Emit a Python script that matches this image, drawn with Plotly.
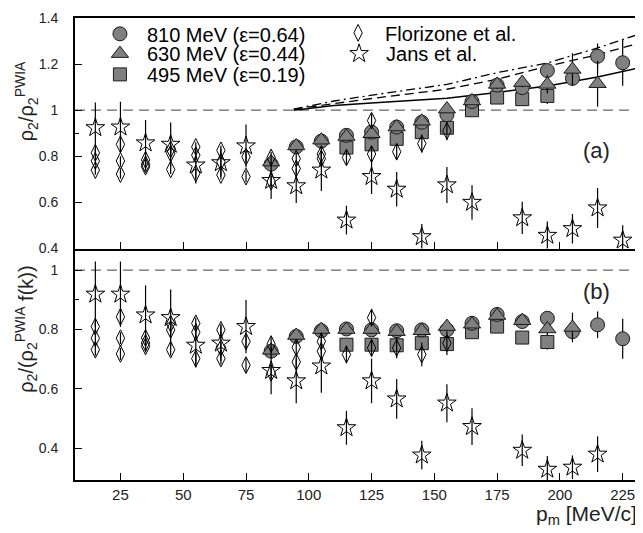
import plotly.graph_objects as go

# ---------------- data ----------------
# 810 MeV (eps=0.64), circles
x810 = [85, 95, 105, 115, 125, 135, 145, 155, 165, 175, 185, 195, 205, 215, 225]
a810 = [0.766, 0.841, 0.866, 0.891, 0.905, 0.927, 0.948, 0.980, 1.038, 1.109, 1.098, 1.172, 1.138, 1.234, 1.206]
ea810 = [0.015, 0.015, 0.015, 0.015, 0.015, 0.015, 0.02, 0.02, 0.02, 0.02, 0.02, 0.03, 0.03, 0.055, 0.10]
b810 = [0.727, 0.777, 0.796, 0.802, 0.799, 0.796, 0.799, 0.799, 0.821, 0.851, 0.827, 0.838, 0.793, 0.816, 0.769]
eb810 = [0.012, 0.012, 0.012, 0.012, 0.012, 0.012, 0.012, 0.012, 0.012, 0.015, 0.015, 0.02, 0.02, 0.045, 0.067]

# 630 MeV (eps=0.44), triangles
x630a = [85, 95, 105, 115, 125, 135, 145, 155, 165, 175, 185, 195, 205, 215]
a630 = [0.775, 0.845, 0.870, 0.886, 0.898, 0.927, 0.952, 1.005, 1.040, 1.112, 1.120, 1.112, 1.177, 1.115]
ea630 = [0.015, 0.015, 0.015, 0.015, 0.015, 0.015, 0.015, 0.015, 0.015, 0.02, 0.02, 0.04, 0.07, 0.10]
x630b = [85, 95, 105, 115, 125, 135, 145, 155, 165, 175, 185, 195, 205]
b630 = [0.730, 0.780, 0.800, 0.800, 0.800, 0.793, 0.796, 0.810, 0.818, 0.847, 0.830, 0.802, 0.807]
eb630 = [0.012, 0.012, 0.012, 0.012, 0.012, 0.012, 0.012, 0.012, 0.012, 0.015, 0.015, 0.02, 0.05]

# 495 MeV (eps=0.19), squares
x495 = [115, 125, 135, 145, 155, 165, 175, 185, 195]
a495 = [0.838, 0.852, 0.876, 0.905, 0.924, 1.000, 1.055, 1.048, 1.062]
ea495 = [0.015, 0.015, 0.015, 0.015, 0.015, 0.015, 0.02, 0.02, 0.035]
b495 = [0.749, 0.749, 0.747, 0.754, 0.751, 0.791, 0.810, 0.773, 0.758]
eb495 = [0.012, 0.012, 0.012, 0.012, 0.012, 0.012, 0.015, 0.015, 0.025]

# Florizone et al., open diamonds
flor_x = [15, 15, 15, 25, 25, 25, 35, 35, 35, 45, 45, 45, 55, 55, 55, 65, 65, 65,
          75, 75, 85, 85, 95, 95, 105, 105, 115, 125, 125, 135, 145, 155]
flor_a = [0.815, 0.780, 0.740, 0.852, 0.780, 0.723, 0.785, 0.765, 0.755, 0.830, 0.812, 0.743,
          0.841, 0.805, 0.726, 0.826, 0.776, 0.719, 0.798, 0.712, 0.795, 0.690, 0.790, 0.747,
          0.810, 0.790, 0.795, 0.955, 0.810, 0.820, 0.855, 0.910]
flor_b = [0.810, 0.771, 0.732, 0.843, 0.771, 0.718, 0.772, 0.755, 0.743, 0.820, 0.799, 0.732,
          0.821, 0.791, 0.702, 0.799, 0.738, 0.702, 0.760, 0.680, 0.751, 0.654, 0.740, 0.691,
          0.760, 0.727, 0.716, 0.840, 0.738, 0.738, 0.716, 0.754]
flor_e = [0.02, 0.02, 0.02, 0.02, 0.02, 0.02, 0.02, 0.02, 0.02, 0.02, 0.02, 0.02,
          0.02, 0.02, 0.02, 0.02, 0.02, 0.02, 0.025, 0.025, 0.025, 0.025, 0.025, 0.025,
          0.03, 0.03, 0.03, 0.03, 0.03, 0.035, 0.04, 0.04]

# Jans et al., open stars
jans_xa = [15, 25, 35, 45, 55, 65, 75, 85, 95, 105, 115, 125, 135, 145, 155, 165, 185, 195, 205, 215, 225]
jans_a = [0.924, 0.927, 0.858, 0.852, 0.762, 0.772, 0.845, 0.695, 0.672, 0.740, 0.523, 0.712,
          0.657, 0.451, 0.676, 0.600, 0.533, 0.457, 0.486, 0.576, 0.436]
jans_ea = [0.11, 0.11, 0.10, 0.095, 0.08, 0.06, 0.093, 0.08, 0.075, 0.09, 0.062, 0.075,
           0.075, 0.055, 0.078, 0.075, 0.07, 0.06, 0.064, 0.087, 0.065]
jans_xb = [15, 25, 35, 45, 55, 65, 75, 85, 95, 105, 115, 125, 135, 145, 155, 165, 185, 195, 205, 215]
jans_b = [0.919, 0.919, 0.849, 0.840, 0.747, 0.754, 0.810, 0.662, 0.627, 0.677, 0.469, 0.627,
          0.566, 0.377, 0.552, 0.473, 0.393, 0.329, 0.336, 0.380]
jans_eb = [0.11, 0.11, 0.10, 0.095, 0.075, 0.06, 0.09, 0.08, 0.075, 0.09, 0.057, 0.075,
           0.067, 0.048, 0.064, 0.062, 0.053, 0.045, 0.04, 0.06]

# theory curves (panel a)
theory_x = [94, 110, 128, 155, 175, 195, 215, 231.5]
th_solid = [1.000, 1.020, 1.033, 1.052, 1.077, 1.105, 1.144, 1.184]
th_dash = [1.005, 1.030, 1.055, 1.091, 1.134, 1.191, 1.241, 1.291]
th_dashdot = [1.005, 1.040, 1.070, 1.112, 1.163, 1.205, 1.270, 1.330]

REF_LEVEL = 1.0
x_ticks = [25, 50, 75, 100, 125, 150, 175, 200, 225]
ya_ticks = [0.4, 0.6, 0.8, 1.0, 1.2, 1.4]
ya_text = ["0.4", "0.6", "0.8", "1", "1.2", "1.4"]
yb_ticks = [0.4, 0.6, 0.8, 1.0]
yb_text = ["0.4", "0.6", "0.8", "1"]
y_minor = [0.9]

names = ["810 MeV (\u03b5=0.64)", "630 MeV (\u03b5=0.44)", "495 MeV (\u03b5=0.19)",
         "Florizone et al.", "Jans et al."]

# ---------------- figure ----------------
# the page body has an 8px margin; the figure is sized so the 643x533 window shows it whole
OFF = 8
W, H = 643 - OFF, 533 - OFF
ML, MR, MT, MB = 75 - OFF, 2, 13 - OFF, 53
PW, PH = W - ML - MR, H - MT - MB
FONT = "Liberation Sans, Arial, sans-serif"
GRAY = "#808080"
EDGE = "#1a1a1a"


def px_x(p):  # window pixel -> paper x
    return (p - OFF - ML) / PW


def px_y(p):  # window pixel -> paper y
    return 1 - (p - OFF - MT) / PH


fig = go.Figure()

# theory lines
for ys, dash, wid in [(th_solid, "solid", 1.5), (th_dash, "9px,5px", 1.3), (th_dashdot, "9px,4px,2px,4px", 1.3)]:
    fig.add_trace(go.Scatter(x=theory_x, y=ys, mode="lines", xaxis="x2", yaxis="y2",
                             line=dict(color="black", width=wid, dash=dash), showlegend=False,
                             hoverinfo="skip"))


def err(e):
    return dict(type="data", array=e, visible=True, color="black", thickness=1.2, width=0)


def add_series(xs, ya, ea, xb, yb, eb, symbol, size, name, leg, filled):
    if filled:
        mk = dict(symbol=symbol, size=size, color=GRAY, line=dict(color=EDGE, width=1))
    else:
        mk = dict(symbol=symbol, size=size, color="black", line=dict(color="black", width=1))
    fig.add_trace(go.Scatter(x=xs, y=ya, error_y=err(ea), mode="markers", marker=mk,
                             xaxis="x2", yaxis="y2", name=name, legend=leg, showlegend=True))
    fig.add_trace(go.Scatter(x=xb, y=yb, error_y=err(eb), mode="markers", marker=mk,
                             xaxis="x", yaxis="y", name=name, showlegend=False))


add_series(x495, a495, ea495, x495, b495, eb495, "square", 13, names[2], "legend3", True)
add_series(x810, a810, ea810, x810, b810, eb810, "circle", 14, names[0], "legend", True)
add_series(x630a, a630, ea630, x630b, b630, eb630, "triangle-up", 15, names[1], "legend2", True)
add_series(flor_x, flor_a, flor_e, flor_x, flor_b, flor_e, "diamond-tall-open", 12, names[3], "legend4", False)
add_series(jans_xa, jans_a, jans_ea, jans_xb, jans_b, jans_eb, "star-open", 14, names[4], "legend5", False)


def leg_pos(sym_x, sym_y):
    return dict(x=px_x(sym_x - 27), y=px_y(sym_y), xanchor="left", yanchor="middle",
                bgcolor="rgba(0,0,0,0)", borderwidth=0, itemwidth=44, itemsizing="trace",
                font=dict(family=FONT, size=20, color="black"))


axis_common = dict(showline=True, linecolor="black", linewidth=2, ticks="inside",
                   ticklen=7, tickwidth=1.3, tickcolor="black", showgrid=False, zeroline=False)
minor_y = dict(tickvals=y_minor, ticks="inside", ticklen=4, tickwidth=1.2, tickcolor="black", showgrid=False)

fig.update_layout(
    width=W, height=H, margin=dict(l=ML, r=MR, t=MT, b=MB),
    paper_bgcolor="white", plot_bgcolor="white",
    font=dict(family=FONT, color="#222"),
    xaxis=dict(domain=[0, 1], anchor="y", range=[6.9, 231.5], tickvals=x_ticks, mirror=False,
               tickfont=dict(size=15, color="#222"), **axis_common),
    xaxis2=dict(domain=[0, 1], anchor="y2", matches="x", range=[6.9, 231.5], tickvals=x_ticks,
                mirror=True, showticklabels=False, **axis_common),
    yaxis=dict(domain=[0, 0.501], anchor="x", range=[0.293, 1.073], tickvals=yb_ticks, ticktext=yb_text,
               mirror=True, tickfont=dict(size=14, color="#222"), ticklabelstandoff=12,
               minor=minor_y, **axis_common),
    yaxis2=dict(domain=[0.501, 1], anchor="x2", range=[0.3999, 1.4001], tickvals=ya_ticks, ticktext=ya_text,
                mirror=True, tickfont=dict(size=14, color="#222"), ticklabelstandoff=12,
                ticklabeloverflow="allow", minor=minor_y, **axis_common),
    legend=leg_pos(120, 29),
    legend2=leg_pos(120, 49),
    legend3=leg_pos(120, 70),
    legend4=leg_pos(359, 28),
    legend5=leg_pos(360, 49),
    showlegend=True,
)

# reference level y = 1 in both panels
for yref in ["y", "y2"]:
    fig.add_shape(type="line", xref="x domain", yref=yref, x0=0, x1=1, y0=REF_LEVEL, y1=REF_LEVEL,
                  line=dict(color="#666", width=1.2, dash="10px,6px"), layer="below")

ann_font = dict(family=FONT, size=22, color="#222")
fig.add_annotation(text="(a)", xref="paper", yref="paper", x=px_x(614), y=px_y(132),
                   showarrow=False, font=ann_font)
fig.add_annotation(text="(b)", xref="paper", yref="paper", x=px_x(614), y=px_y(289),
                   showarrow=False, font=ann_font)
fig.add_annotation(text="p<sub>m</sub> [MeV/c]", xref="paper", yref="paper", x=px_x(641), y=px_y(531),
                   xanchor="right", yanchor="bottom", showarrow=False,
                   font=dict(family=FONT, size=21, color="#222"))
fig.add_annotation(text="\u03c1<sub>2</sub>/\u03c1<sub>2</sub><sup>PWIA</sup>", xref="paper", yref="paper",
                   x=px_x(26), y=px_y(97), textangle=-90, showarrow=False,
                   xanchor="center", yanchor="middle", font=dict(family=FONT, size=20, color="#222"))
fig.add_annotation(text="\u03c1<sub>2</sub>/(\u03c1<sub>2</sub><sup>PWIA</sup> f(k))", xref="paper", yref="paper",
                   x=px_x(26), y=px_y(328), textangle=-90, showarrow=False,
                   xanchor="center", yanchor="middle", font=dict(family=FONT, size=20, color="#222"))

fig.write_html("out.html")
